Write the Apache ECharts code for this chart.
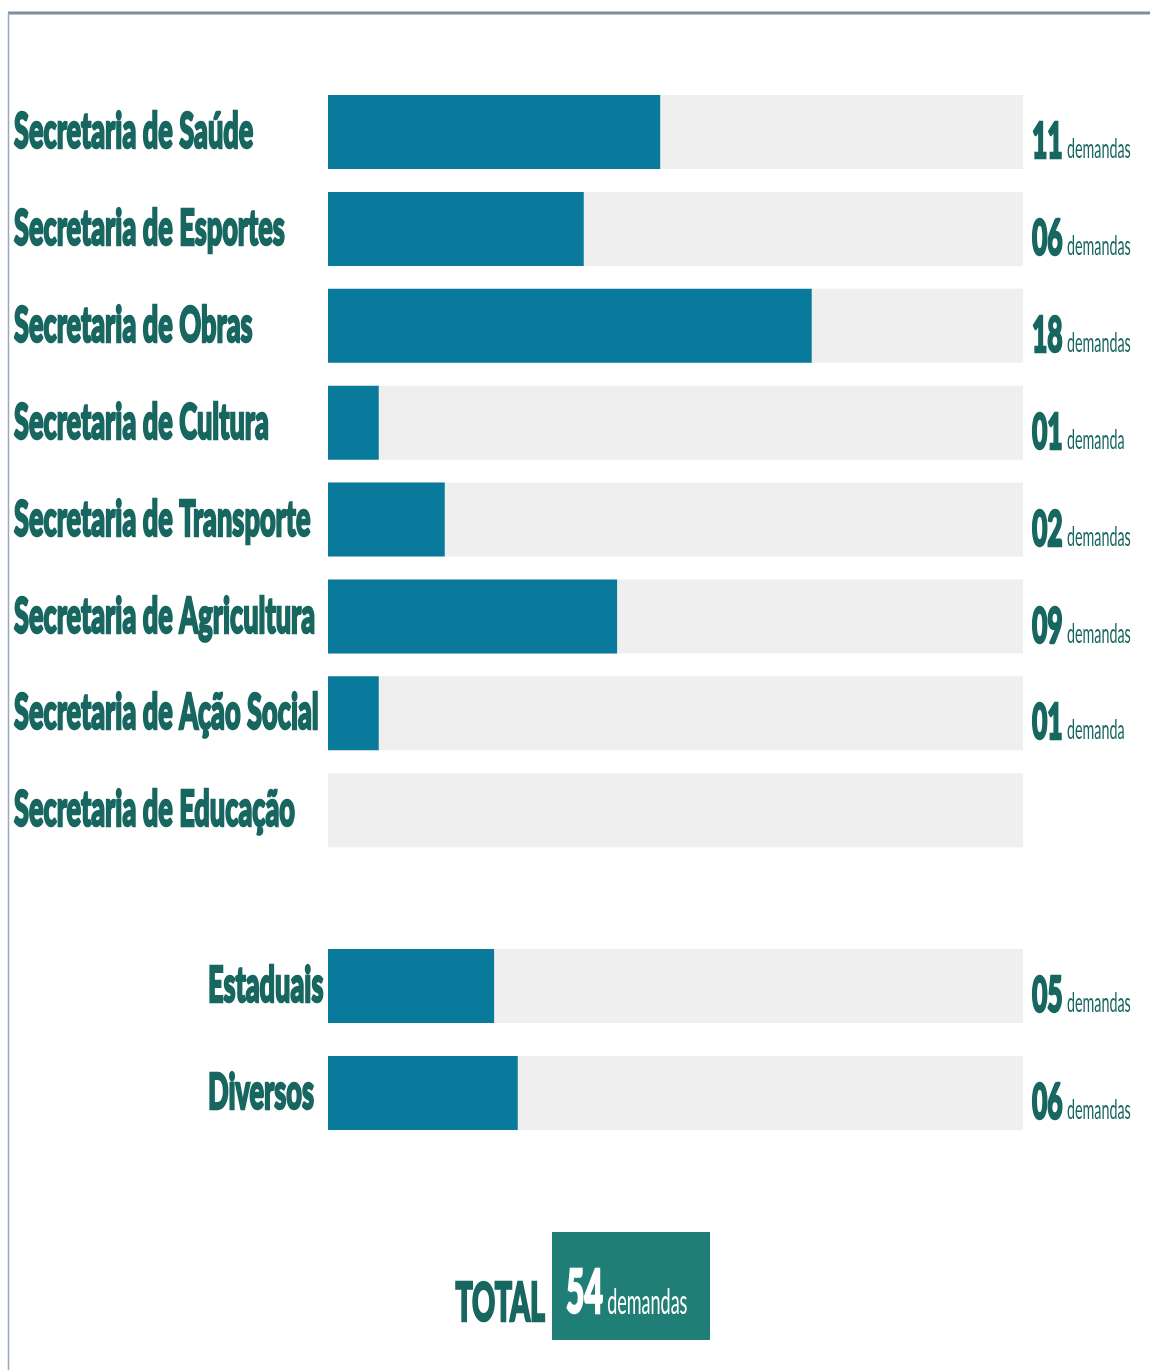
<!DOCTYPE html>
<html>
<head>
<meta charset="utf-8">
<script src="https://cdn.jsdelivr.net/npm/echarts@6/dist/echarts.min.js"></script>
<style>
  html, body { margin: 0; padding: 0; background: #fff; }
  #chart { width: 1150px; height: 1370px; }
</style>
</head>
<body>
<div id="chart"></div>
<script>
// secretarias (upper block)
const categoriasTopo = [
  "Secretaria de Saúde",
  "Secretaria de Esportes",
  "Secretaria de Obras",
  "Secretaria de Cultura",
  "Secretaria de Transporte",
  "Secretaria de Agricultura",
  "Secretaria de Ação Social",
  "Secretaria de Educação"
];
// bar length (% of the grey track)
const comprimentoTopo = [47.8, 36.8, 69.6, 7.3, 16.8, 41.6, 7.3, 0];
// printed number of demands
const demandasTopo = [11, 6, 18, 1, 2, 9, 1, null];

// lower block
const categoriasBase = ["Estaduais", "Diversos"];
const comprimentoBase = [23.9, 27.3];
const demandasBase = [5, 6];

const totalDemandas = 54;

const TEAL = "#17665f";
const BAR = "#0a7a9c";
const TRACK = "#efefef";
const SX = 0.53;     // the lettering is very condensed
const SX_NOME = 0.543;

const chart = echarts.init(document.getElementById("chart"));

const fmt = (n) => String(n).padStart(2, "0");
const unidade = (n) => (n === 1 ? "demanda" : "demandas");

// category names, drawn condensed and heavy
function nomeSerie(nomes, gridIdx, xPix) {
  return {
    type: "custom",
    xAxisIndex: gridIdx,
    yAxisIndex: gridIdx,
    silent: true,
    data: nomes.map((n, i) => [0, i]),
    renderItem: function (params, api) {
      const y = api.coord([0, api.value(1)])[1];
      return {
        type: "text",
        x: xPix,
        y: y,
        scaleX: SX_NOME,
        style: {
          text: nomes[params.dataIndex],
          fill: TEAL,
          stroke: TEAL,
          lineWidth: 2.5,
          font: "900 50px Lato",
          align: "left",
          verticalAlign: "middle"
        }
      };
    }
  };
}

// "11 demandas" at the right of each track
function valorSerie(valores, gridIdx) {
  return {
    type: "custom",
    xAxisIndex: gridIdx,
    yAxisIndex: gridIdx,
    silent: true,
    data: valores.map((v, i) => [100, i]),
    renderItem: function (params, api) {
      const v = valores[params.dataIndex];
      if (v === null) return null;
      const p = api.coord([100, api.value(1)]);
      return {
        type: "text",
        x: p[0] + 9,
        y: p[1] + 10,
        scaleX: SX,
        style: {
          text: "{n|" + fmt(v) + "}{u|" + unidade(v) + "}",
          align: "left",
          verticalAlign: "middle",
          rich: {
            n: { fontFamily: "Lato", fontWeight: 900, fontSize: 50, fill: TEAL, stroke: TEAL, lineWidth: 2.5, lineHeight: 50, verticalAlign: "bottom" },
            u: { fontFamily: "Lato", fontWeight: "normal", fontSize: 27, fill: TEAL, lineHeight: 50, verticalAlign: "bottom", padding: [0, 0, 4, 8] }
          }
        }
      };
    }
  };
}

function barraSerie(valores, gridIdx) {
  return {
    type: "bar",
    xAxisIndex: gridIdx,
    yAxisIndex: gridIdx,
    data: valores,
    barWidth: 74,
    showBackground: true,
    backgroundStyle: { color: TRACK },
    itemStyle: { color: BAR },
    silent: true,
    animation: false
  };
}

const option = {
  backgroundColor: "#ffffff",
  animation: false,
  grid: [
    { left: 328, right: 127, top: 83.6, height: 775 },
    { left: 328, right: 127, top: 932.5, height: 214 }
  ],
  xAxis: [
    { type: "value", gridIndex: 0, min: 0, max: 100, show: false },
    { type: "value", gridIndex: 1, min: 0, max: 100, show: false }
  ],
  yAxis: [
    { type: "category", gridIndex: 0, data: categoriasTopo, inverse: true, show: false },
    { type: "category", gridIndex: 1, data: categoriasBase, inverse: true, show: false }
  ],
  series: [
    barraSerie(comprimentoTopo, 0),
    barraSerie(comprimentoBase, 1),
    nomeSerie(categoriasTopo, 0, 14),
    nomeSerie(categoriasBase, 1, 208),
    valorSerie(demandasTopo, 0),
    valorSerie(demandasBase, 1)
  ],
  graphic: [
    // frame lines
    { type: "line", shape: { x1: 8, y1: 13, x2: 1150, y2: 13 }, style: { stroke: "#7f8e9c", lineWidth: 3 } },
    { type: "line", shape: { x1: 8.5, y1: 13, x2: 8.5, y2: 1370 }, style: { stroke: "#9aa9ba", lineWidth: 1.5 } },
    // total box
    { type: "rect", shape: { x: 552, y: 1232, width: 158, height: 108 }, style: { fill: "#1f7e76" } },
    {
      type: "text", x: 545, y: 1304, scaleX: SX,
      style: { text: "TOTAL", fill: TEAL, stroke: TEAL, lineWidth: 2.5, font: "900 54px Lato", align: "right", verticalAlign: "middle" }
    },
    {
      type: "text", x: 566, y: 1294, scaleX: SX,
      style: {
        text: "{n|" + totalDemandas + "}{u|demandas}",
        align: "left",
        verticalAlign: "middle",
        rich: {
          n: { fontFamily: "Lato", fontWeight: 900, fontSize: 60, fill: "#ffffff", stroke: "#ffffff", lineWidth: 2.5, lineHeight: 60, verticalAlign: "bottom" },
          u: { fontFamily: "Lato", fontWeight: "normal", fontSize: 34, fill: "#ffffff", lineHeight: 60, verticalAlign: "bottom", padding: [0, 0, 4, 8] }
        }
      }
    }
  ]
};

chart.setOption(option);
</script>
</body>
</html>
